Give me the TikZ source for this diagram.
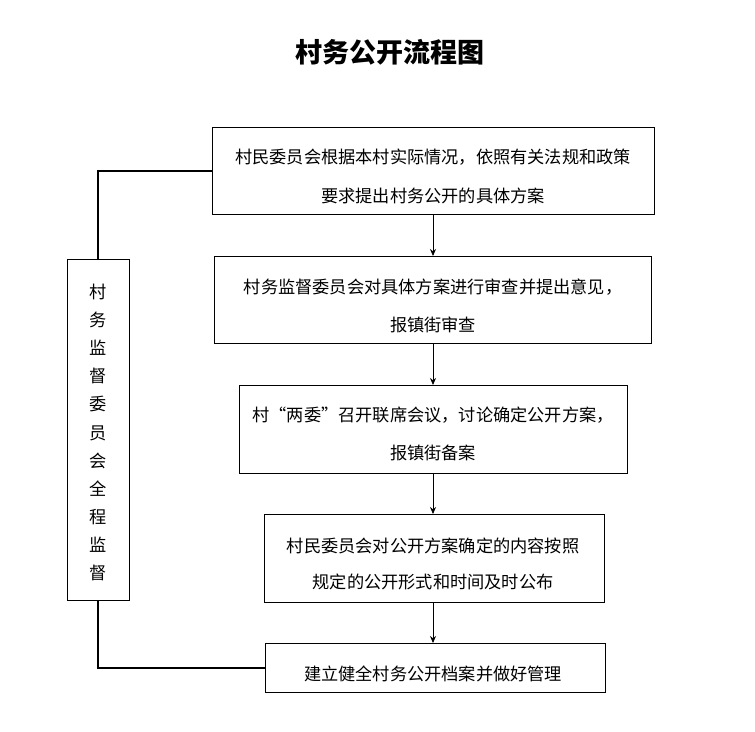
\documentclass[tikz,border=0pt]{standalone}
\usepackage{fontspec}
\newfontfamily\cjk{Noto Sans CJK SC}
\usetikzlibrary{arrows.meta}
\begin{document}
\begin{tikzpicture}[x=1pt,y=-1pt,
  box/.style={draw,line width=1pt,inner sep=0pt},
  txt/.style={font=\cjk\fontsize{17.2}{20}\selectfont,inner sep=0pt},
  arr/.style={-{Stealth[length=7pt,width=6pt]},line width=0.8pt},
  ln/.style={line width=1.3pt}]
\useasboundingbox (0,0) rectangle (755,731);
\node[font=\cjk\bfseries\fontsize{27}{30}\selectfont] (title) at (390,52) {村务公开流程图};
\draw[box] (212,127) rectangle (654,214);
\coordinate (b1t) at (433,127); \coordinate (b1b) at (433,214); \coordinate (b1l) at (212,171);
\node[txt] (t1a) at (433,157) {村民委员会根据本村实际情况，依照有关法规和政策};
\node[txt] (t1b) at (433,196) {要求提出村务公开的具体方案};
\draw[box] (214,256) rectangle (651,343);
\coordinate (b2t) at (433,256); \coordinate (b2b) at (433,343);
\node[txt] (t2a) at (433,287) {村务监督委员会对具体方案进行审查并提出意见，};
\node[txt] (t2b) at (433,325) {报镇街审查};
\draw[box] (239,385) rectangle (627,473);
\coordinate (b3t) at (433,385); \coordinate (b3b) at (433,473);
\node[txt] (t3a) at (433,415) {村“两委”召开联席会议，讨论确定公开方案，};
\node[txt] (t3b) at (433,453) {报镇街备案};
\draw[box] (264,514) rectangle (604,602);
\coordinate (b4t) at (433,514); \coordinate (b4b) at (433,602);
\node[txt] (t4a) at (433,546) {村民委员会对公开方案确定的内容按照};
\node[txt] (t4b) at (433,582) {规定的公开形式和时间及时公布};
\draw[box] (265,643) rectangle (605,692);
\coordinate (b5t) at (433,643); \coordinate (b5l) at (265,668);
\node[txt] (t5) at (433,674) {建立健全村务公开档案并做好管理};
\draw[box] (67,259) rectangle (129,600);
\coordinate (lt) at (98,259); \coordinate (lb) at (98,600);
\node[txt,align=center,font=\cjk\fontsize{17.2}{28.1}\selectfont] (lv) at (98,432.5) {村\\务\\监\\督\\委\\员\\会\\全\\程\\监\\督};
\draw[arr] (b1b) -- (b2t);
\draw[arr] (b2b) -- (b3t);
\draw[arr] (b3b) -- (b4t);
\draw[arr] (b4b) -- (b5t);
\draw[ln] (b1l) -| (lt);
\draw[ln] (lb) |- (b5l);
\end{tikzpicture}
\end{document}
